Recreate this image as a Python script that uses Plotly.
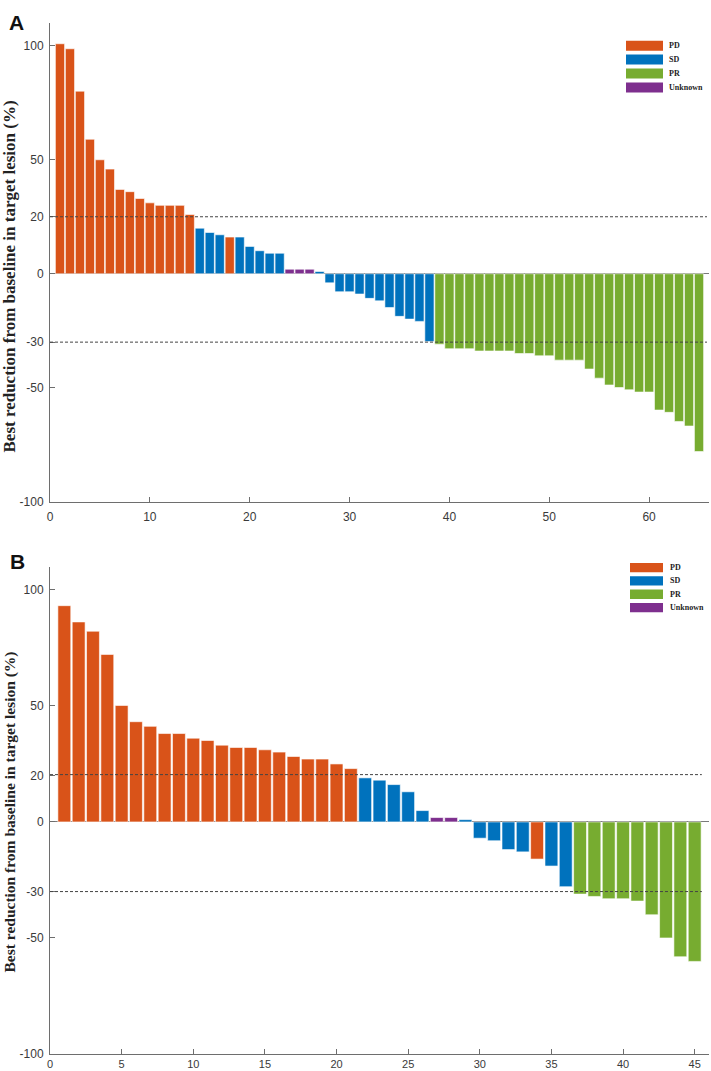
import plotly.graph_objects as go

# ---------------- data ----------------
A_status = (["PD"] * 14 + ["SD"] * 3 + ["PD"] + ["SD"] * 5 + ["Unknown"] * 3
            + ["SD"] * 12 + ["PR"] * 27)
A_values = [100.9, 98.7, 80.1, 59.0, 50.0, 45.9, 37.0, 36.0, 33.0, 31.1, 30.0, 30.0, 30.0, 26.0,
            20.0, 18.1, 17.1, 16.1, 16.1, 12.0, 10.1, 9.0, 9.0,
            2.0, 2.0, 2.0,
            1.0, -4.0, -7.9, -7.9, -8.9, -10.8, -11.9, -14.8, -18.7, -19.9, -20.9, -29.7,
            -30.9, -32.9, -32.9, -32.9, -33.9, -33.9, -33.9, -33.9, -35.0, -35.0, -36.0, -36.0,
            -37.9, -37.9, -37.9, -41.8, -45.8, -48.8, -49.9, -50.9, -51.9, -51.9, -59.8, -60.8,
            -64.8, -66.8, -78.0]

B_status = (["PD"] * 21 + ["SD"] * 5 + ["Unknown"] * 2 + ["SD"] * 5 + ["PD"]
            + ["SD"] * 2 + ["PR"] * 9)
B_values = [93.2, 86.2, 82.2, 72.2, 50.2, 43.2, 41.2, 38.1, 38.1, 36.1, 35.1, 33.1, 32.1, 32.1,
            31.1, 30.1, 28.2, 27.1, 27.1, 25.0, 23.0,
            19.0, 18.0, 16.1, 13.0, 4.9,
            1.9, 1.9,
            1.0, -7.0, -8.1, -11.9, -12.9,
            -16.0,
            -19.0, -27.9,
            -31.1, -32.1, -33.1, -33.1, -34.1, -40.0, -50.0, -58.1, -60.1]

legend_labels = ["PD", "SD", "PR", "Unknown"]
status_colors = {"PD": "#D95319", "SD": "#0072BD", "PR": "#77AC30", "Unknown": "#7E2F8E"}

A_ytick_vals = [-100, -50, -30, 0, 25, 50, 100]
A_ytick_text = ["-100", "-50", "-30", "0", "20", "50", "100"]
B_ytick_vals = [-100, -50, -30, 0, 20, 50, 100]
B_ytick_text = ["-100", "-50", "-30", "0", "20", "50", "100"]
A_xticks = [0, 10, 20, 30, 40, 50, 60]
B_xticks = [0, 5, 10, 15, 20, 25, 30, 35, 40, 45]
A_thresholds = [25, -30]
B_thresholds = [20.4, -30]

YTITLE = "Best reduction from baseline in target lesion (%)"

# ---------------- layout geometry ----------------
W, H = 711, 1071
ML, MR, MT, MB = 50, 2, 5, 17
PW, PH = W - ML - MR, H - MT - MB


def px(xp):
    return (xp - ML) / PW


def py(yp):
    return (H - MB - yp) / PH


fig = go.Figure()

fig.add_trace(go.Bar(
    x=list(range(1, len(A_values) + 1)), y=A_values,
    marker=dict(color=[status_colors[s] for s in A_status],
                line=dict(color="rgba(255,255,255,0.75)", width=0.8)),
    width=0.92, xaxis="x", yaxis="y", showlegend=False))

fig.add_trace(go.Bar(
    x=list(range(1, len(B_values) + 1)), y=B_values,
    marker=dict(color=[status_colors[s] for s in B_status],
                line=dict(color="rgba(255,255,255,0.75)", width=0.8)),
    width=0.9, xaxis="x2", yaxis="y2", showlegend=False))

tickfont = dict(family="Liberation Sans, Arial, sans-serif", size=12, color="#3a3a3a")
small_tickfont = dict(family="Liberation Sans, Arial, sans-serif", size=11, color="#3a3a3a")
axis_common = dict(showgrid=False, showline=True, linecolor="#6e6e6e", linewidth=1,
                   ticks="inside", ticklen=5, tickcolor="#6e6e6e",
                   mirror=False, automargin=False)

fig.update_layout(
    width=W, height=H,
    margin=dict(l=ML, r=MR, t=MT, b=MB),
    paper_bgcolor="white", plot_bgcolor="white",
    bargap=0.05,
    xaxis=dict(domain=[0, 1], range=[0, 66], tickvals=A_xticks, anchor="y",
               zeroline=False, ticklabelstandoff=4, tickfont=tickfont, **axis_common),
    yaxis=dict(domain=[py(501.7), py(23)], range=[-100, 110],
               tickvals=A_ytick_vals, ticktext=A_ytick_text, anchor="x",
               ticklabelstandoff=3, tickfont=tickfont,
               zeroline=True, zerolinecolor="#7a7a7a", zerolinewidth=1, **axis_common),
    xaxis2=dict(domain=[0, 1], range=[0, 46], tickvals=B_xticks, anchor="y2",
                zeroline=False, ticklabelstandoff=0, tickfont=small_tickfont, **axis_common),
    yaxis2=dict(domain=[py(1054), py(566.7)], range=[-100, 110],
                tickvals=B_ytick_vals, ticktext=B_ytick_text, anchor="x2",
                ticklabelstandoff=3, tickfont=tickfont,
                zeroline=True, zerolinecolor="#7a7a7a", zerolinewidth=1, **axis_common),
)

shapes = []
for t in A_thresholds:
    shapes.append(dict(type="line", xref="x", yref="y", x0=0, x1=65.8, y0=t, y1=t,
                       line=dict(color="#444444", width=1, dash="3px,2px")))
for t in B_thresholds:
    shapes.append(dict(type="line", xref="x2", yref="y2", x0=0, x1=45.5, y0=t, y1=t,
                       line=dict(color="#444444", width=1, dash="3px,2px")))

annotations = []
# legends drawn as swatches + labels
legA = dict(x0=626, x1=663, y0=40.7, step=13.9, h=10, tx=667)
legB = dict(x0=630, x1=663, y0=563, step=13.3, h=9.3, tx=668)
for leg in (legA, legB):
    for i, lab in enumerate(legend_labels):
        y_top = leg["y0"] + i * leg["step"]
        shapes.append(dict(type="rect", xref="paper", yref="paper",
                           x0=px(leg["x0"]), x1=px(leg["x1"]),
                           y0=py(y_top + leg["h"]), y1=py(y_top),
                           fillcolor=status_colors[lab], line=dict(width=0)))
        annotations.append(dict(xref="paper", yref="paper", x=px(leg["tx"]),
                                y=py(y_top + leg["h"] / 2), text="<b>%s</b>" % lab,
                                showarrow=False, xanchor="left", yanchor="middle",
                                font=dict(family="Liberation Serif, Times New Roman, serif",
                                          size=8, color="#222222")))

# y-axis titles
annotations.append(dict(xref="paper", yref="paper", x=px(9), y=py(276.5),
                        text="<b>%s</b>" % YTITLE, textangle=-90, showarrow=False,
                        xanchor="center", yanchor="middle",
                        font=dict(family="Liberation Serif, Times New Roman, serif",
                                  size=17, color="#222222")))
annotations.append(dict(xref="paper", yref="paper", x=px(9.5), y=py(812),
                        text="<b>%s</b>" % YTITLE, textangle=-90, showarrow=False,
                        xanchor="center", yanchor="middle",
                        font=dict(family="Liberation Serif, Times New Roman, serif",
                                  size=15.5, color="#222222")))

# panel letters
annotations.append(dict(xref="paper", yref="paper", x=px(7), y=py(22.5), text="<b>A</b>",
                        showarrow=False, xanchor="left", yanchor="middle",
                        font=dict(family="Liberation Sans, Arial, sans-serif", size=21,
                                  color="#111111")))
annotations.append(dict(xref="paper", yref="paper", x=px(8), y=py(561.5), text="<b>B</b>",
                        showarrow=False, xanchor="left", yanchor="middle",
                        font=dict(family="Liberation Sans, Arial, sans-serif", size=21,
                                  color="#111111")))

fig.update_layout(shapes=shapes, annotations=annotations)

fig.write_html("out.html", config={"displayModeBar": False},
               post_script="document.body.style.margin='0';document.body.style.overflow='hidden';")
